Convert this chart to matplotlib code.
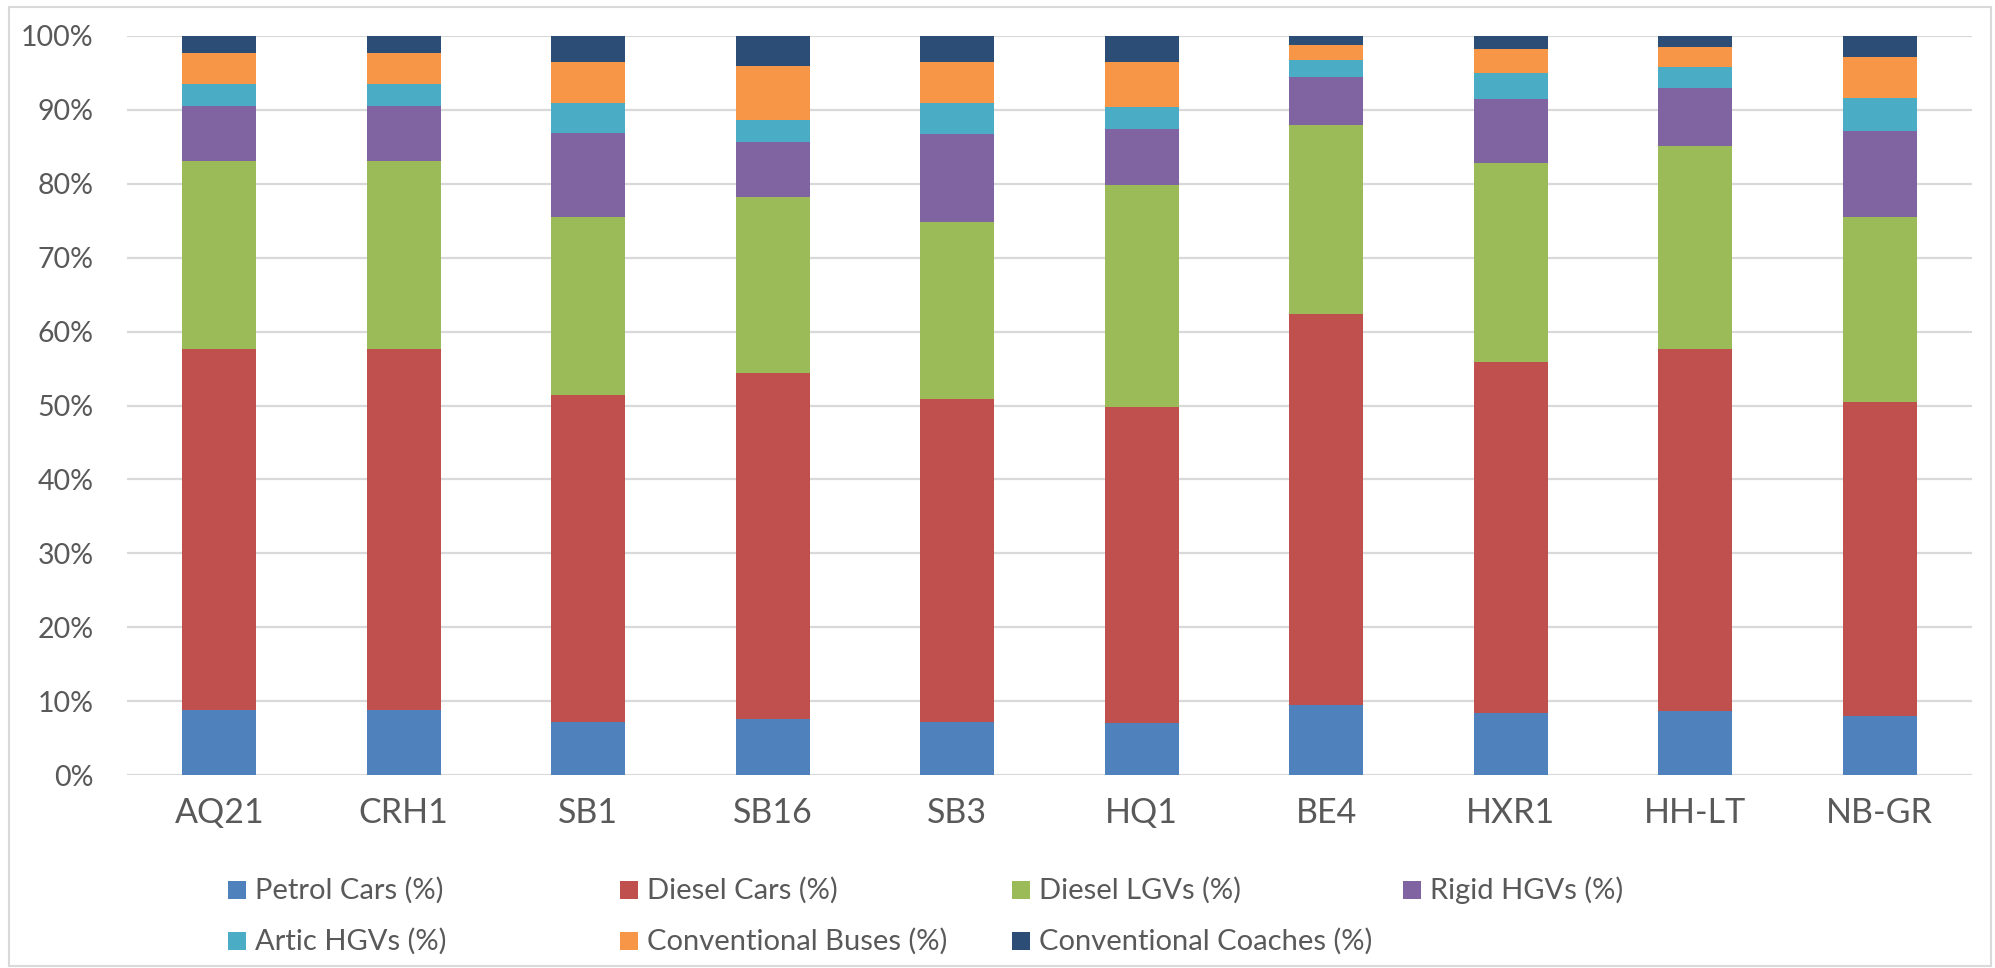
import numpy as np
import matplotlib
matplotlib.use("Agg")
import matplotlib.pyplot as plt
from matplotlib.patches import Rectangle
from matplotlib.ticker import FuncFormatter

# Share of traffic by vehicle type at each monitoring site (%)
sites = ["AQ21", "CRH1", "SB1", "SB16", "SB3", "HQ1", "BE4", "HXR1", "HH-LT", "NB-GR"]
petrol_cars = [8.8, 8.8, 7.2, 7.6, 7.2, 7.0, 9.5, 8.4, 8.7, 8.0]
diesel_cars = [48.9, 48.9, 44.2, 46.8, 43.7, 42.8, 52.9, 47.5, 48.9, 42.5]
diesel_lgvs = [25.4, 25.4, 24.1, 23.8, 23.9, 30.0, 25.5, 26.9, 27.5, 25.0]
rigid_hgvs = [7.4, 7.4, 11.4, 7.4, 11.9, 7.6, 6.6, 8.7, 7.9, 11.7]
artic_hgvs = [3.0, 3.0, 4.0, 3.1, 4.2, 3.0, 2.3, 3.5, 2.8, 4.4]
conv_buses = [4.2, 4.2, 5.6, 7.2, 5.6, 6.1, 2.0, 3.3, 2.7, 5.5]
conv_coaches = [2.3, 2.3, 3.5, 4.1, 3.5, 3.5, 1.2, 1.7, 1.5, 2.9]

series_names = ["Petrol Cars (%)", "Diesel Cars (%)", "Diesel LGVs (%)", "Rigid HGVs (%)",
                "Artic HGVs (%)", "Conventional Buses (%)", "Conventional Coaches (%)"]
colors = ["#4F81BD", "#C0504D", "#9BBB59", "#8064A2", "#4BACC6", "#F79646", "#2C4D75"]

plt.rcParams['font.family'] = ['Lato', 'DejaVu Sans']
text_grey = "#595959"

W, H = 1995, 968
fig = plt.figure(figsize=(W / 100, H / 100), dpi=100)
ax = fig.add_axes([127 / W, 1 - 775 / H, (1972 - 127) / W, (775 - 36) / H])

data = np.array([petrol_cars, diesel_cars, diesel_lgvs, rigid_hgvs,
                 artic_hgvs, conv_buses, conv_coaches])
data = data / data.sum(axis=0) * 100   # 100% stacked

x = np.arange(len(sites))
bottom = np.zeros(len(sites))
for vals, name, col in zip(data, series_names, colors):
    ax.bar(x, vals, width=0.4, bottom=bottom, color=col, label=name, zorder=3)
    bottom += vals

ax.set_xlim(-0.5, len(sites) - 0.5)
ax.set_ylim(0, 100)
ax.set_yticks(np.arange(0, 101, 10))
ax.yaxis.set_major_formatter(FuncFormatter(lambda v, _: "%d%%" % v))
ax.grid(axis="y", color="#D9D9D9", linewidth=1.6, zorder=0)
ax.set_axisbelow(True)
for s in ax.spines.values():
    s.set_visible(False)
ax.tick_params(axis="both", length=0)
ax.tick_params(axis="y", labelsize=20.5, labelcolor=text_grey, pad=24)
ax.set_xticks(x)
ax.set_xticklabels(sites, fontsize=24.5, color=text_grey)
ax.tick_params(axis="x", pad=16)

# legend laid out in evenly spaced columns below the plot
col_x = [228, 620, 1012, 1403]
row_y = [890, 941]
for i, (name, col) in enumerate(zip(series_names, colors)):
    cx, cy = col_x[i % 4], row_y[i // 4]
    fig.patches.append(Rectangle((cx / W, 1 - (cy + 9) / H), 18 / W, 18 / H,
                                 transform=fig.transFigure, facecolor=col,
                                 edgecolor="none"))
    fig.text((cx + 27) / W, 1 - cy / H, name, fontsize=21, color=text_grey,
             va="center", ha="left")

# chart area border
fig.patches.append(Rectangle((9 / W, 2 / H), (1991 - 9) / W, (961 - 2) / H,
                             transform=fig.transFigure, fill=False,
                             edgecolor="#D9D9D9", linewidth=1.5))

fig.savefig("out.png", dpi=100)
